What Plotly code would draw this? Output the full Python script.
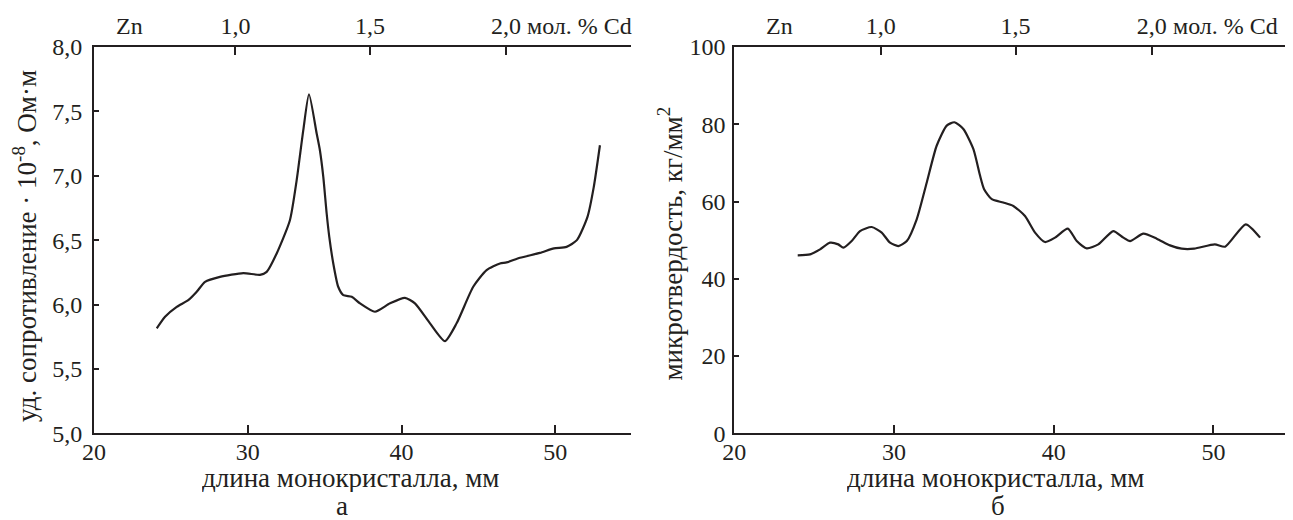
import plotly.graph_objects as go

# ---------------- data ----------------
# panel а: resistivity vs crystal length
len_a = [24.08, 24.62, 25.38, 26.13, 26.68, 27.22, 28.19, 29.71, 30.79, 31.23,
         31.88, 32.74, 33.18, 33.61, 33.98, 34.48, 34.69, 34.91, 35.13, 35.30,
         35.56, 35.88, 36.21, 36.76, 37.30, 38.27, 39.25, 40.22, 40.87, 41.85,
         42.82, 43.58, 44.66, 45.53, 46.40, 46.83, 47.70, 49.00, 49.91, 50.73,
         51.40, 52.09, 52.50, 52.90]
rho_a = [5.815, 5.905, 5.982, 6.034, 6.099, 6.176, 6.215, 6.244, 6.231, 6.254,
         6.397, 6.655, 6.966, 7.354, 7.633, 7.328, 7.198, 6.991, 6.707, 6.526,
         6.319, 6.138, 6.073, 6.060, 6.009, 5.944, 6.009, 6.052, 6.009, 5.854,
         5.716, 5.854, 6.138, 6.267, 6.319, 6.327, 6.363, 6.401, 6.436, 6.448,
         6.500, 6.681, 6.914, 7.237]

# panel б: microhardness vs crystal length
len_b = [23.97, 24.74, 25.37, 25.99, 26.51, 26.83, 27.35, 27.87, 28.60, 29.23,
         29.75, 30.27, 30.80, 31.42, 32.05, 32.67, 33.30, 33.78, 34.34, 34.97,
         35.39, 35.64, 36.12, 36.84, 37.47, 38.20, 38.83, 39.45, 40.08, 40.88,
         41.44, 42.07, 42.79, 43.73, 44.36, 44.78, 45.61, 46.45, 47.28, 48.01,
         48.79, 50.08, 50.73, 52.02, 52.92]
hv_b = [46.05, 46.31, 47.61, 49.35, 48.91, 48.05, 49.77, 52.36, 53.40, 51.95,
        49.35, 48.47, 49.77, 55.40, 64.94, 74.44, 79.64, 80.52, 78.78, 73.58,
        66.65, 63.19, 60.60, 59.74, 58.86, 56.26, 51.95, 49.51, 50.65, 52.99,
        49.77, 47.87, 48.91, 52.36, 50.65, 49.77, 51.69, 50.39, 48.65, 47.79,
        47.79, 48.91, 48.31, 54.10, 50.65]

# bottom axis ticks (mm)
mm_ticks = [20, 30, 40, 50]
# top (composition) axis: positions in mm and labels
conc_pos_a = [29.2, 37.95, 46.79]
conc_pos_b = [29.17, 37.61, 46.13]
conc_labels = ["1,0", "1,5", "2,0"]
zn_label = "Zn"
zn_pos_a = 22.34
zn_pos_b = 22.85
unit_label = "мол. % Cd"
unit_pos_a = 48.05
unit_pos_b = 47.35

rho_ticks = [5.0, 5.5, 6.0, 6.5, 7.0, 7.5, 8.0]
hv_ticks = [0, 20, 40, 60, 80, 100]

xtitle = "длина монокристалла, мм"
ytitle_a = "уд. сопротивление · 10<sup>-8</sup>, Ом·м"
ytitle_b = "микротвердость, кг/мм<sup>2</sup>"
panel_a = "а"
panel_b = "б"

# ---------------- layout helpers ----------------
# the page body has an 8 px margin, so the figure is drawn 8 px smaller and
# all page positions are shifted by that offset
OFF = 8
W, H = 1293 - OFF, 520 - OFF
INK = "#231f20"
FONT = "Liberation Serif, 'Times New Roman', Times, 'DejaVu Serif', serif"


def px(x):
    return (x - OFF) / W


def py(y):
    return 1 - (y - OFF) / H


fig = go.Figure()
fig.add_trace(go.Scatter(x=len_a, y=rho_a, mode="lines", xaxis="x", yaxis="y",
                         line=dict(color=INK, width=2.2, shape="spline", smoothing=0.6),
                         showlegend=False, hoverinfo="skip"))
fig.add_trace(go.Scatter(x=len_b, y=hv_b, mode="lines", xaxis="x2", yaxis="y2",
                         line=dict(color=INK, width=2.2, shape="spline", smoothing=0.6),
                         showlegend=False, hoverinfo="skip"))
# empty traces so the top (composition) axes are drawn
fig.add_trace(go.Scatter(x=[], y=[], xaxis="x3", yaxis="y", showlegend=False))
fig.add_trace(go.Scatter(x=[], y=[], xaxis="x4", yaxis="y2", showlegend=False))

ydom = [py(433.3), py(47)]
dom_a = [px(94), px(631)]
dom_b = [px(734.3), px(1289)]
rng_a = [20, 54.92]
rng_b = [20, 54.73]

tickfont = dict(family=FONT, size=24, color=INK)

base = dict(showline=True, linecolor=INK, linewidth=2, ticks="inside",
            tickwidth=2, tickcolor=INK, showgrid=False, zeroline=False,
            tickfont=tickfont, fixedrange=True, automargin=False)

fig.update_layout(
    width=W, height=H,
    margin=dict(l=0, r=0, t=0, b=0, autoexpand=False),
    paper_bgcolor="white", plot_bgcolor="white",
    separators=", ",
    font=dict(family=FONT, size=24, color=INK),
    xaxis=dict(domain=dom_a, range=rng_a, anchor="y", ticklen=8,
               tickvals=mm_ticks, ticklabelstandoff=-4, **base),
    yaxis=dict(domain=ydom, range=[5, 8], anchor="x", ticklen=5,
               tickvals=rho_ticks, tickformat=".1f", ticklabelstandoff=5, **base),
    xaxis3=dict(domain=dom_a, range=rng_a, anchor="y", overlaying="x", side="top",
                ticklen=8, tickvals=conc_pos_a, ticktext=conc_labels,
                ticklabelstandoff=1, **base),
    xaxis2=dict(domain=dom_b, range=rng_b, anchor="y2", ticklen=8,
                tickvals=mm_ticks, ticklabelstandoff=-4, **base),
    yaxis2=dict(domain=ydom, range=[0, 100], anchor="x2", ticklen=5,
                tickvals=hv_ticks, ticklabelstandoff=2, **base),
    xaxis4=dict(domain=dom_b, range=rng_b, anchor="y2", overlaying="x2", side="top",
                ticklen=8, tickvals=conc_pos_b, ticktext=conc_labels,
                ticklabelstandoff=1, **base),
)

tf = dict(family=FONT, size=24, color=INK)
ttl = dict(family=FONT, size=27, color=INK)
ann = [
    dict(x=zn_pos_a, y=py(26), xref="x", yref="paper", text=zn_label,
         showarrow=False, xanchor="center", yanchor="middle", font=tf),
    dict(x=zn_pos_b, y=py(26), xref="x2", yref="paper", text=zn_label,
         showarrow=False, xanchor="center", yanchor="middle", font=tf),
    dict(x=unit_pos_a, y=py(26), xref="x", yref="paper", text=unit_label,
         showarrow=False, xanchor="left", yanchor="middle", font=tf),
    dict(x=unit_pos_b, y=py(26), xref="x2", yref="paper", text=unit_label,
         showarrow=False, xanchor="left", yanchor="middle", font=tf),
    dict(x=px(350), y=py(478), xref="paper", yref="paper", text=xtitle,
         showarrow=False, xanchor="center", yanchor="middle", font=ttl,
         height=28),
    dict(x=px(995.5), y=py(478), xref="paper", yref="paper", text=xtitle,
         showarrow=False, xanchor="center", yanchor="middle", font=ttl,
         height=28),
    dict(x=px(25), y=py(246), xref="paper", yref="paper", text=ytitle_a,
         showarrow=False, xanchor="center", yanchor="middle", textangle=-90,
         font=ttl),
    dict(x=px(670), y=py(243.5), xref="paper", yref="paper", text=ytitle_b,
         showarrow=False, xanchor="center", yanchor="middle", textangle=-90,
         font=ttl),
    dict(x=px(341.5), y=py(506), xref="paper", yref="paper", text=panel_a,
         showarrow=False, xanchor="center", yanchor="middle", font=ttl,
         height=26),
    dict(x=px(998), y=py(506), xref="paper", yref="paper", text=panel_b,
         showarrow=False, xanchor="center", yanchor="middle", font=ttl,
         height=26),
]
fig.update_layout(annotations=ann)

fig.write_html("out.html")
